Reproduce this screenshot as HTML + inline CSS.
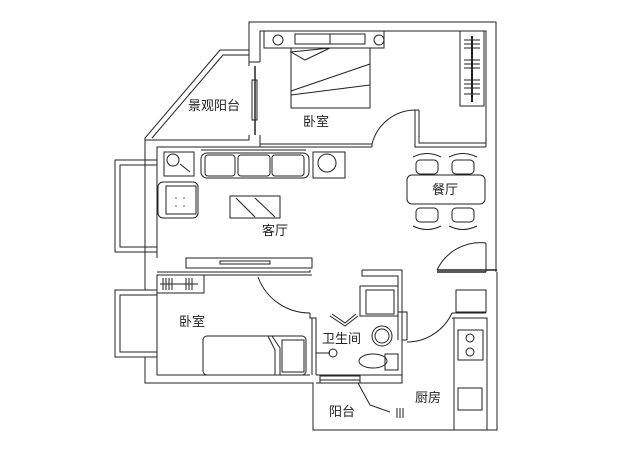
<!DOCTYPE html>
<html><head><meta charset="utf-8"><style>
html,body{margin:0;padding:0;background:#fff;width:627px;height:467px;overflow:hidden}
text{font-family:"Liberation Sans","Noto Sans CJK SC",sans-serif;font-size:13px;fill:#222}
</style></head><body>
<svg width="627" height="467" viewBox="0 0 627 467" xmlns="http://www.w3.org/2000/svg">
<g fill="none" stroke="#222" stroke-width="1">
<!-- top bedroom outer walls -->
<path d="M249,62 V22 H496 V272"/>
<path d="M260,62 V31 H486 V147"/>
<path d="M249,62 H260 M249,62 V66"/>
<!-- balcony diagonal -->
<path d="M249,50 H220 L145,138 V160"/>
<path d="M249,55 H223 L152,138"/>
<!-- bedroom left wall lower part -->
<path d="M249,135 V140 H145 M260,135 V147 H157 V160"/>
<path d="M255,66 V135" stroke-width="1.5"/>
<rect x="252" y="80" width="5" height="40"/>
<!-- bedroom bottom wall -->
<path d="M260,147 H372 M260,144 H372 V147"/>
<path d="M415,110 V147 H486 M419,110 V143 H486 M415,110 H419"/>
<path d="M372,144 A45,45 0 0 1 415,110"/>
<!-- living left wall & windows -->
<path d="M157,160 V258 M145,160 V290 M157,290 V375 H310 M145,357 V383 H313 V430 H497 V272"/>
<rect x="115" y="160" width="42" height="92"/><rect x="120" y="165" width="37" height="82"/>
<rect x="115" y="290" width="42" height="67"/><rect x="120" y="295" width="37" height="57"/>
<!-- living room bottom / counter -->
<rect x="186" y="258" width="126" height="10"/>
<rect x="220" y="261" width="50" height="3"/>
<path d="M157,272 H310 V270 M157,275 H312"/>
<!-- bedroom2 door -->
<path d="M258,277 A55,55 0 0 0 310,313"/>
<path d="M310,313 V318 H316 V375 M312,318 V375"/>
<!-- bedroom2 wardrobe -->
<rect x="157" y="275" width="47" height="18"/>
<path d="M160,284 H198 M163,278 v12 M166,278 v12 M169,278 v12 M172,278 v12 M186,278 v12 M189,278 v12 M192,278 v12"/>
<!-- bed2 -->
<rect x="203" y="336" width="103" height="39" rx="4"/>
<path d="M268,336 L275,350 V375 M272,336 L280,348 V375"/>
<rect x="282" y="340" width="22" height="32"/>
<!-- bath -->
<path d="M362,270 V276 H398 V340 M362,270 H402 V312"/>
<path d="M316,375 H402 M316,383 H402 V312"/>
<path d="M398,312 H407 V340 M402,340 H407"/>
<rect x="360" y="286" width="38" height="30"/><rect x="366" y="290" width="28" height="24"/>
<path d="M330,316 L345,326 L358,316 M332,314 L345,323 L356,314"/>
<circle cx="382" cy="336" r="10"/><circle cx="382" cy="336" r="7"/>
<ellipse cx="373" cy="361" rx="14" ry="7"/><rect x="385" y="354" width="13" height="16"/>
<path d="M316,353 H330"/><circle cx="333" cy="353" r="4"/>
<path d="M320,376 H360 M320,380 H360 M360,375 V383 M320,375 V383"/>
<path d="M358,383 L370,405 L390,412 M397,408 V418 M400,408 V418 M403,408 V418"/>
<!-- kitchen -->
<path d="M437,272 H486 M437,270 H497" stroke-width="1.5"/>
<path d="M437,270 A48,48 0 0 1 486,243"/>
<path d="M486,243 V272"/>
<path d="M407,342 A50,50 0 0 0 452,313"/>
<rect x="456" y="290" width="30" height="22"/>
<path d="M452,313 H486 M452,318 H486"/>
<rect x="454" y="318" width="33" height="112"/>
<rect x="458" y="330" width="25" height="30"/>
<circle cx="470" cy="338" r="4"/><circle cx="470" cy="352" r="4"/>
<rect x="458" y="388" width="24" height="22"/>
<!-- bedroom1 furniture -->
<rect x="264" y="31" width="120" height="17"/>
<rect x="295" y="34" width="70" height="10"/><path d="M330,34 v10"/>
<circle cx="278" cy="40" r="5"/><circle cx="379" cy="40" r="5"/>
<rect x="291" y="48" width="79" height="60"/>
<path d="M291,52 L330,48 L305,60 Z M291,91 L370,64 M291,95 L370,85"/>
<rect x="460" y="31" width="24" height="75"/>
<path d="M472,36 V102" stroke-width="2"/>
<path d="M464,40 h16 M464,44 h16 M464,48 h16 M464,60 h16 M464,64 h16 M464,68 h16 M464,80 h16 M464,84 h16 M464,88 h16 M464,94 h16"/>
<!-- living furniture -->
<rect x="164" y="152" width="30" height="24"/>
<circle cx="173" cy="160" r="6"/><path d="M180,164 L190,172"/>
<rect x="201" y="153" width="108" height="25" rx="6"/>
<path d="M201,150 H306"/>
<rect x="205" y="155" width="30" height="21" rx="3"/><rect x="238" y="155" width="32" height="21" rx="3"/><rect x="272" y="155" width="32" height="21" rx="3"/>
<rect x="313" y="152" width="32" height="26"/><circle cx="327" cy="163" r="9"/>
<rect x="158" y="182" width="40" height="36" rx="5"/><rect x="166" y="186" width="30" height="28"/>
<rect x="230" y="196" width="50" height="22"/>
<path d="M236,198 L255,217 M255,198 L275,217"/>
<!-- dining -->
<rect x="407" y="175" width="78" height="29" rx="5"/>
<rect x="416" y="160" width="22" height="14" rx="4"/><rect x="452" y="160" width="22" height="14" rx="4"/>
<rect x="416" y="208" width="22" height="14" rx="4"/><rect x="452" y="208" width="22" height="14" rx="4"/>
<path d="M413,157 Q427,150 441,157 M449,157 Q463,150 477,157 M413,226 Q427,233 441,226 M449,226 Q463,233 477,226"/>
</g>
<g fill="#333">
<circle cx="176" cy="198" r=".7"/><circle cx="184" cy="198" r=".7"/><circle cx="176" cy="206" r=".7"/><circle cx="184" cy="206" r=".7"/>
</g>
<text x="188" y="110">景观阳台</text>
<text x="303" y="126">卧室</text>
<text x="432" y="194">餐厅</text>
<text x="262" y="235">客厅</text>
<text x="179" y="326">卧室</text>
<text x="322" y="343">卫生间</text>
<text x="415" y="402">厨房</text>
<text x="329" y="416">阳台</text>
</svg>
</body></html>
